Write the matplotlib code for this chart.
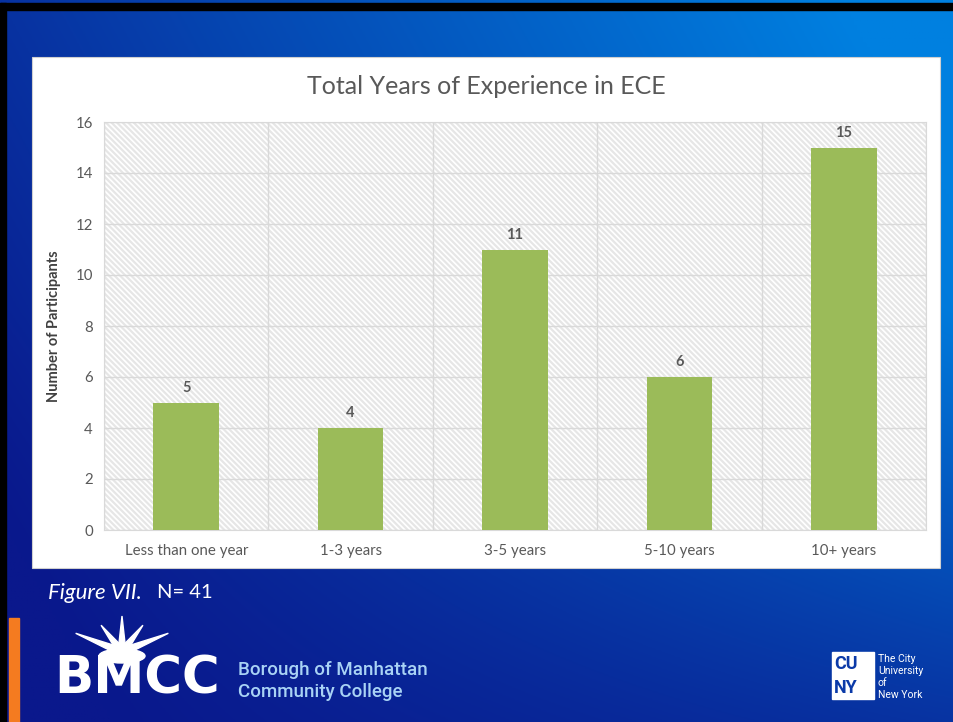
import numpy as np
import matplotlib
matplotlib.use('Agg')
import matplotlib.pyplot as plt
from matplotlib.patches import Rectangle, Polygon, Ellipse

categories = ['Less than one year', '1-3 years', '3-5 years', '5-10 years', '10+ years']
participants = [5, 4, 11, 6, 15]
y_ticks = [0, 2, 4, 6, 8, 10, 12, 14, 16]

W, H = 954, 722
plt.rcParams['font.family'] = ['Lato', 'DejaVu Sans']
plt.rcParams['hatch.linewidth'] = 1.6

fig = plt.figure(figsize=(W / 100, H / 100), dpi=100)


def fx(px):
    return px / W


def fy(py):
    return 1 - py / H


# slide background gradient
bg = fig.add_axes([0, 0, 1, 1], zorder=-10)
bg.set_axis_off()
xx, yy = np.meshgrid(np.linspace(0, 1, 300), np.linspace(0, 1, 300))
t = np.clip(0.85 * xx + 0.35 * (1 - yy) - 0.1, 0, 1) * np.clip(1.25 - 0.9 * yy ** 1.5, 0, 1)
c0 = np.array([0x0a, 0x18, 0x8c]) / 255
c1 = np.array([0x00, 0x80, 0xe0]) / 255
img = c0[None, None, :] * (1 - t[..., None]) + c1[None, None, :] * t[..., None]
bg.imshow(img, extent=[0, 1, 0, 1], aspect='auto', origin='upper')
bg.set_xlim(0, 1)
bg.set_ylim(0, 1)

# black frame strips and orange accent
fig.patches.append(Rectangle((0, fy(10)), 1, fy(3) - fy(10), transform=fig.transFigure, color='black', zorder=-5))
fig.patches.append(Rectangle((0, 0), fx(6), fy(3), transform=fig.transFigure, color='black', zorder=-5))
fig.patches.append(Rectangle((fx(9), 0), fx(10), fy(618), transform=fig.transFigure, color='#f47b20', zorder=-5))

# white chart panel
fig.patches.append(Rectangle((fx(32), fy(568)), fx(940) - fx(32), fy(57) - fy(568),
                             transform=fig.transFigure, facecolor='white', edgecolor='#d0d0d0', lw=0.8, zorder=-4))

ax = fig.add_axes([fx(104), fy(530), fx(926) - fx(104), fy(122) - fy(530)])
ax.set_facecolor('white')
ax.add_patch(Rectangle((0, 0), 1, 1, transform=ax.transAxes, facecolor='white',
                       edgecolor='#e6e6e6', hatch='\\\\\\\\\\\\', lw=0, zorder=0))

x = np.arange(len(categories))
bars = ax.bar(x, participants, width=0.4, color='#9bbb59', zorder=3)
for xi, v in zip(x, participants):
    ax.text(xi, v + 0.3, str(v), ha='center', va='bottom', fontsize=10.5,
            fontweight='bold', color='#595959', zorder=4)

ax.set_xlim(-0.5, len(categories) - 0.5)
ax.set_ylim(0, 16)
ax.set_yticks(y_ticks)
ax.set_xticks(x)
ax.set_xticklabels(categories)
ax.set_xticks(np.arange(len(categories) + 1) - 0.5, minor=True)
ax.grid(True, axis='y', which='major', color='#d9d9d9', lw=1, zorder=1)
ax.grid(True, axis='x', which='minor', color='#d9d9d9', lw=1, zorder=1)
ax.tick_params(axis='both', which='both', length=0, labelsize=10.8, colors='#595959', pad=8)
ax.tick_params(axis='x', pad=10)
for s in ['top', 'right', 'left', 'bottom']:
    ax.spines[s].set_color('#d9d9d9')
ax.set_ylabel('Number of Participants', fontsize=10.5, fontweight='bold', color='#404040', labelpad=10)

# title is centred on the white panel, not on the plot area
fig.text(fx(486), fy(87), 'Total Years of Experience in ECE', fontsize=18, color='#595959',
         ha='center', va='center')

# caption
fig.text(fx(48), fy(593), 'Figure VII.', fontsize=16, style='italic', color='white', va='center')
fig.text(fx(157), fy(593), 'N= 41', fontsize=14.5, color='white', va='center')

# BMCC logo (simplified)
cx, cy = 122, 652
for ang, ln in [(90, 36), (128, 34), (52, 34), (158, 50), (22, 50)]:
    a = np.deg2rad(ang)
    tip = (cx + ln * np.cos(a), cy - ln * np.sin(a))
    p = a + np.pi / 2
    b1 = (cx + 4 * np.cos(p), cy - 4 * np.sin(p))
    b2 = (cx - 4 * np.cos(p), cy + 4 * np.sin(p))
    fig.patches.append(Polygon([(fx(tip[0]), fy(tip[1])), (fx(b1[0]), fy(b1[1])), (fx(b2[0]), fy(b2[1]))],
                               closed=True, transform=fig.transFigure, color='white', zorder=2))
fig.patches.append(Ellipse((fx(cx), fy(cy + 4)), fx(46), fy(0) - fy(14),
                           transform=fig.transFigure, color='white', zorder=2))
fig.text(fx(54), fy(680), 'BMCC', fontsize=37, fontweight='bold', color='white', va='center',
         family=['DejaVu Sans'])
fig.text(fx(238), fy(670), 'Borough of Manhattan', fontsize=13.5, color='#a9d3f5', va='center',
         family=['Roboto', 'DejaVu Sans'], fontweight='medium')
fig.text(fx(238), fy(692), 'Community College', fontsize=13.5, color='#a9d3f5', va='center',
         family=['Roboto', 'DejaVu Sans'], fontweight='medium')

# CUNY logo (simplified)
fig.patches.append(Rectangle((fx(832), fy(699)), fx(42), fy(652) - fy(699), transform=fig.transFigure,
                             color='white', zorder=2))
fig.text(fx(834), fy(664), 'CU', fontsize=13, fontweight='bold', color='#0b3aa8', va='center',
         family=['Roboto', 'DejaVu Sans'], zorder=3)
fig.text(fx(834), fy(688), 'NY', fontsize=13, fontweight='bold', color='#0b3aa8', va='center',
         family=['Roboto', 'DejaVu Sans'], zorder=3)
for i, line in enumerate(['The City', 'University', 'of', 'New York']):
    fig.text(fx(878), fy(659 + i * 12), line, fontsize=7.5, color='white', va='center',
             family=['Roboto', 'DejaVu Sans'])

fig.savefig('out.png', dpi=100)
